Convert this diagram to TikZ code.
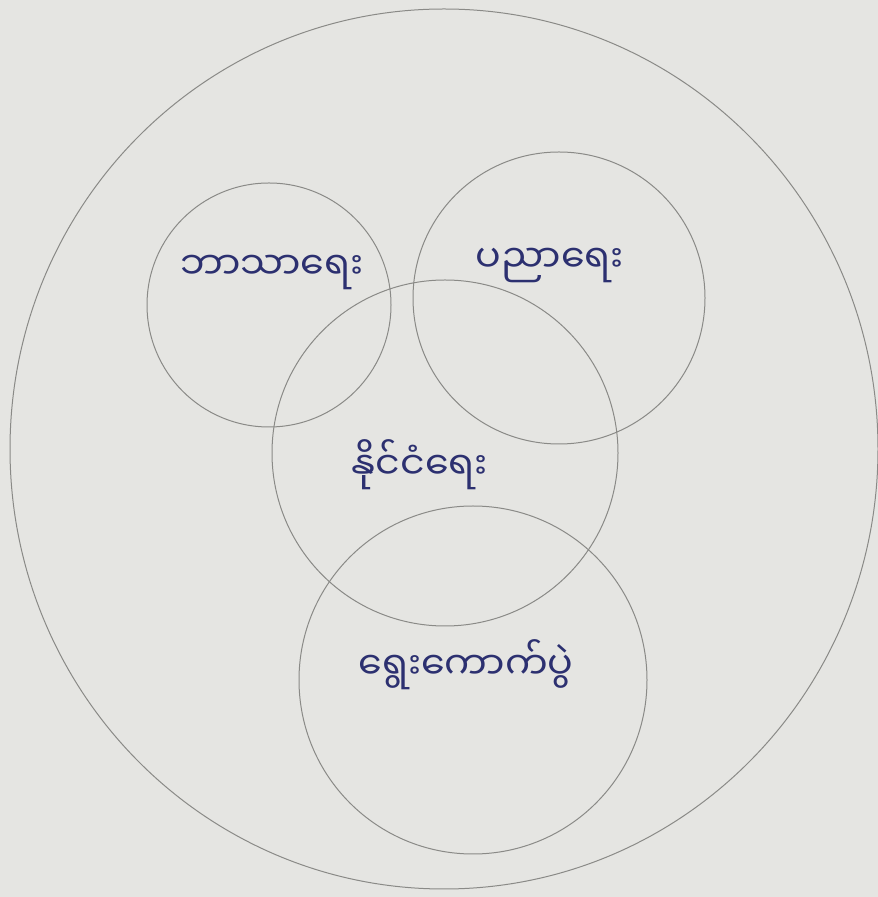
\documentclass[tikz,border=0pt]{standalone}
\usepackage{fontspec}
\newfontfamily\mmfont[Script=Myanmar]{Noto Sans Myanmar UI}
\definecolor{paper}{HTML}{E5E5E2}
\definecolor{pencil}{HTML}{8A8A87}
\definecolor{ink}{HTML}{2C3070}
\tikzset{
  ring/.style={draw=pencil, line width=1pt},
  lbl/.style={text=ink, font=\mmfont\fontsize{38}{44}\selectfont, inner sep=0pt}
}
\begin{document}
\begin{tikzpicture}[x=1pt,y=1pt]
\fill[paper] (0,0) rectangle (878,897);
\useasboundingbox (0,0) rectangle (878,897);
% outer circle
\draw[ring] (444,448) ellipse [x radius=434, y radius=440];
% inner circles
\draw[ring] (269,592) circle (122);
\draw[ring] (559,599) circle (146);
\draw[ring] (445,444) circle (173);
\draw[ring] (473,217) circle (174);
% labels
\node[lbl] (religion) at (272,625) {ဘာသာရေး};
\node[lbl] (education) at (550,632) {ပညာရေး};
\node[lbl] (politics) at (420,432) {နိုင်ငံရေး};
\node[lbl] (election) at (466,232) {ရွေးကောက်ပွဲ};
\end{tikzpicture}
\end{document}
